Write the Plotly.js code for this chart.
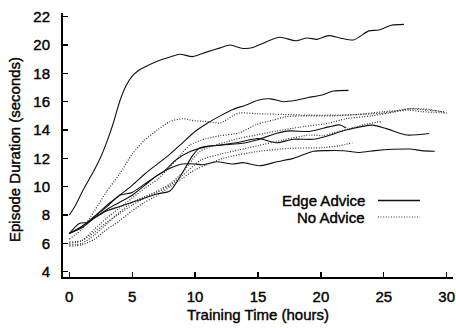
<!DOCTYPE html>
<html>
<head>
<meta charset="utf-8">
<script src="https://cdn.plot.ly/plotly-3.0.1.min.js"></script>
<style>
html,body{margin:0;padding:0;background:#fff;}
#chart{width:456px;height:328px;}
#chart text{stroke:#000;stroke-width:0.4px;}
</style>
</head>
<body>
<div id="chart"></div>
<script>
// Edge Advice (solid)
const s1x = [0,0.5,1,1.5,2,2.5,3,3.5,4,4.5,5,5.5,6,7,8,8.8,9.8,10.9,12,12.8,13.7,14.6,15.2,16.7,18.0,18.9,19.7,20.6,21.5,22.6,23.1,23.8,24.6,25.6,26.6];
const s1y = [8.0,8.7,9.6,10.4,11.2,12.1,13.2,14.5,16.0,17.1,17.8,18.2,18.45,18.85,19.15,19.35,19.18,19.5,19.8,20.0,19.77,19.82,20.05,20.55,20.3,20.5,20.4,20.66,20.5,20.36,20.6,21.0,21.06,21.4,21.46];

const s2x = [0,1,2,3,4,5,6,7,8,9,10,11,12,13,14,15,16,17,18,19,20,21,22.2];
const s2y = [6.7,7.2,7.9,8.7,9.4,10.1,10.9,11.6,12.3,13.1,13.9,14.5,15.0,15.45,15.75,16.1,16.2,16.0,16.1,16.3,16.45,16.75,16.8];

const s3x = [0,0.8,1.5,2,3,4,5,6,7,7.5,8.5,9.6,10.9,12.2,13.8,14.9,16.5,17.5,19.1,20.7,21.5,22.0];
const s3y = [6.7,7.4,7.5,7.9,8.6,9.4,9.6,10.2,10.8,11.07,11.9,12.48,12.83,12.95,13.07,13.3,13.77,13.94,13.9,14.24,14.36,14.15];

const s4x = [0,1,2,3,4,5,6,7,8,9,9.8,10.4,12,13.3,15,16.5,17.8,19.4,20.4,22,24.1,25.2,26.8,28.6];
const s4y = [6.7,7.2,7.8,8.3,8.6,8.9,9.2,9.5,9.7,11.0,12.2,12.76,12.95,13.1,13.4,13.1,13.35,13.35,13.55,14.0,14.35,14.1,13.65,13.76];

const s5x = [0,1,2,3,4,5,6,7,8,9,10,10.6,11.7,13,13.8,15.1,16.5,17.8,19.4,20.5,21.8,23.1,24.3,25.7,27.06,28,29.05];
const s5y = [6.7,7.1,7.8,8.4,8.9,9.4,10.1,10.8,11.3,11.6,11.6,11.55,11.76,11.6,11.7,11.48,11.76,12.0,12.5,12.55,12.54,12.42,12.55,12.64,12.66,12.55,12.5];

// No Advice (dotted)
const d1x = [0,1,2,3,4,5,6,7,8,9,10,11,12,13,13.5,15,17,19,21,23,25,27,28,29,30];
const d1y = [6.3,7.0,8.3,9.7,10.9,12.3,13.3,14.0,14.6,14.8,14.65,14.6,14.5,15.0,15.2,15.15,15.1,15.05,15.05,15.1,15.3,15.4,15.3,15.25,15.2];

const d2x = [0,1,2,3,4,5,6,7,8,9,9.6,10.9,12,13.5,14.9,16.2,17.3,19,21,23,25,27,28.5,29.8];
const d2y = [6.0,6.2,7.0,7.8,8.5,9.2,9.9,10.5,11.4,12.4,12.95,13.4,13.6,13.8,14.4,14.7,14.95,15.0,15.0,15.1,15.2,15.5,15.4,15.3];

const d3x = [0,1,2,3,4,5,6,7,8,9,10.4,13,15.7,18.3,20.7,22,24,26,27,28,29,30];
const d3y = [5.9,6.0,6.6,7.4,8.2,8.9,9.3,9.7,10.2,11.0,12.5,13.3,13.8,14.2,14.5,14.8,15.0,15.3,15.5,15.5,15.4,15.2];

const d4x = [0,1,2,3,4,5,6,7,8,9,10.5,12,13.5,15,17,19.1,20.2,21,22.3,23.5,24.8];
const d4y = [6.1,6.2,6.8,7.5,8.1,8.7,9.2,9.6,10.1,10.8,11.9,12.3,12.6,12.9,13.3,13.65,13.6,13.8,14.1,14.4,14.6];

const d5x = [0,1,2,3,4,5,6,7,8,9,10,10.9,12.2,14.9,17.5,20.2,21.5,22.5];
const d5y = [5.8,5.9,6.3,7.0,7.6,8.3,8.9,9.4,10.0,10.6,11.2,11.54,12.0,12.48,12.71,12.76,12.9,13.1];

const xTicks = [0,5,10,15,20,25,30];
const yTicks = [4,6,8,10,12,14,16,18,20,22];
const legendLabels = ['Edge Advice','No Advice'];
const xTitle = 'Training Time (hours)';
const yTitle = 'Episode Duration (seconds)';

const solid = {color:'#111', width:1.1, shape:'spline', smoothing:0.7};
const dotted = {color:'#333', width:1.2, dash:'1px,1.6px', shape:'spline', smoothing:0.7};

const solids = [[s1x,s1y],[s2x,s2y],[s3x,s3y],[s4x,s4y],[s5x,s5y]];
const dots = [[d1x,d1y],[d2x,d2y],[d3x,d3y],[d4x,d4y],[d5x,d5y]];

const traces = [];
solids.forEach(([x,y]) => traces.push({x, y, type:'scatter', mode:'lines', line:solid, showlegend:false, hoverinfo:'skip'}));
dots.forEach(([x,y]) => traces.push({x, y, type:'scatter', mode:'lines', line:dotted, showlegend:false, hoverinfo:'skip'}));

const font = {family:'Liberation Sans, Arial, Helvetica, sans-serif', size:15, color:'#000'};
const W = 390, H = 264, L = 63, T = 13;
const px = v => (v - L) / W;
const py = v => (T + H - v) / H;

const layout = {
  width:456, height:328,
  margin:{l:L, r:3, t:T, b:51},
  paper_bgcolor:'#fff', plot_bgcolor:'#fff',
  font:font,
  showlegend:false,
  xaxis:{
    range:[-0.5,30.5], tickvals:xTicks, ticktext:xTicks.map(String),
    ticks:'inside', ticklen:5, tickwidth:1.3, tickcolor:'#000',
    showline:true, linecolor:'#000', linewidth:2, mirror:false,
    showgrid:false, zeroline:false, ticklabelstandoff:5,
    title:{text:xTitle, font:font, standoff:5}
  },
  yaxis:{
    range:[3.63,22.26], tickvals:yTicks, ticktext:yTicks.map(String),
    ticks:'inside', ticklen:5, tickwidth:1.3, tickcolor:'#000',
    showline:true, linecolor:'#000', linewidth:2, mirror:false,
    showgrid:false, zeroline:false, ticklabelstandoff:8
  },
  annotations:[
    {xref:'paper', yref:'paper', x:px(14), y:py(150), xanchor:'center', yanchor:'middle', textangle:-90, text:yTitle, showarrow:false, font:font},
    {xref:'paper', yref:'paper', x:px(367), y:py(200.5), xanchor:'right', yanchor:'middle', text:legendLabels[0], showarrow:false, font:font},
    {xref:'paper', yref:'paper', x:px(367), y:py(217), xanchor:'right', yanchor:'middle', text:legendLabels[1], showarrow:false, font:font}
  ],
  shapes:[
    {type:'line', xref:'paper', yref:'paper', x0:px(378), x1:px(420), y0:py(200.5), y1:py(200.5), line:{color:'#111', width:1.4}},
    {type:'line', xref:'paper', yref:'paper', x0:px(378), x1:px(420), y0:py(217), y1:py(217), line:{color:'#333', width:1.2, dash:'1px,1.6px'}}
  ]
};

Plotly.newPlot('chart', traces, layout, {staticPlot:true, displayModeBar:false});
</script>
</body>
</html>
